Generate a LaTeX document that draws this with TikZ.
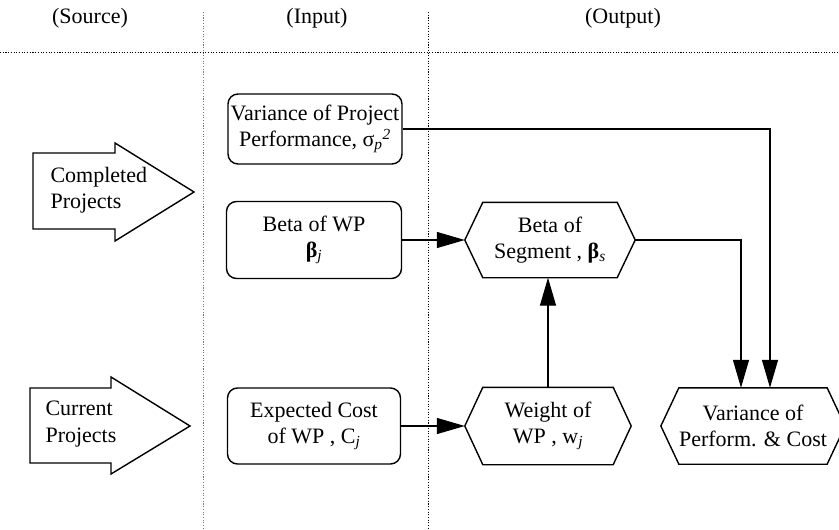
\documentclass[tikz,border=0pt]{standalone}
\usepackage{fontspec}
\setmainfont{Liberation Serif}
\usetikzlibrary{arrows.meta,calc}

% italic sub/superscripts used in the labels
\newcommand\isub[1]{\textsubscript{\itshape #1}}
\newcommand\isup[1]{\textsuperscript{\itshape #1}}
% hexagon outline around a (hidden) rectangular node
\newcommand\hexoutline[1]{%
  \draw[outline] (#1.north west) -- (#1.north east) -- ([xshift=18pt]#1.east)
    -- (#1.south east) -- (#1.south west) -- ([xshift=-18pt]#1.west) -- cycle;}

\tikzset{
  every node/.style={font=\fontsize{22}{26.5}\selectfont},
  outline/.style={line width=1.4pt, line join=miter},
  inbox/.style={draw, line width=1.4pt, rounded corners=10pt, align=center, inner sep=0pt},
  hexbox/.style={align=center, inner sep=0pt, minimum height=76pt},
  flow/.style={line width=1.3pt, -{Triangle[length=28pt,width=16pt]}},
  header/.style={anchor=center},
  sep/.style={line width=1pt, dash pattern=on 1.1pt off 1.6pt},
  blockarrow/.style={line width=1.4pt, line join=miter},
}

\begin{document}
\begin{tikzpicture}[x=1pt,y=-1pt]
\useasboundingbox (0,0) rectangle (839,530);

% column headers and separators
\node[header] (hsrc) at (90,18) {(Source)};
\node[header] (hin)  at (317,18) {(Input)};
\node[header] (hout) at (623,18) {(Output)};
\draw[sep] (0,52) -- (839,52);
\draw[sep, black!55, line width=0.8pt] (203,12) -- (203,530);
\draw[sep] (428,12) -- (428,530);

% source block arrows
\node[anchor=west, align=left] (completed) at (47,190) {Completed\\Projects};
\draw[blockarrow] (33,153) -- (115,153) -- (115,143) -- (194,192) -- (115,241)
  -- (115,229) -- (33,229) -- cycle;
\node[anchor=west, align=left] (current) at (42,424) {Current\\Projects};
\draw[blockarrow] (30,388) -- (111,388) -- (111,377) -- (190,426) -- (111,474)
  -- (111,463) -- (30,463) -- cycle;

% input boxes
\node[inbox, minimum width=174pt, minimum height=70pt] (varproj) at (315,129)
  {Variance of Project\\Performance, σ\isub{p}\isup{2}};
\node[inbox, minimum width=175pt, minimum height=77pt] (betawp) at (314,240)
  {Beta of WP\\{\bfseries β}\isub{j}};
\node[inbox, minimum width=173pt, minimum height=76pt] (expcost) at (314,426)
  {Expected Cost\\of WP , C\isub{j}};

% output hexagons
\node[hexbox, minimum width=134pt, minimum height=75pt] (seg) at (550,240)
  {Beta of\\Segment , {\bfseries β}\isub{s}};
\node[hexbox, minimum width=130pt, minimum height=77pt] (weight) at (548,426)
  {Weight of\\WP , w\isub{j}};
\node[hexbox, minimum width=133pt] (varpc) at (753,426)
  {Variance of\\Perform. \& Cost};
\hexoutline{seg}
\hexoutline{weight}
\hexoutline{varpc}

% connectors
\draw[flow] (betawp.east) -- ([xshift=-18pt]seg.west);
\draw[flow] (expcost.east) -- ([xshift=-18pt]weight.west);
\draw[flow] (weight.north) -- (weight.north |- seg.south);
\draw[flow] ([xshift=18pt]seg.east) -| ([xshift=-12pt]varpc.north);
\draw[flow] (varproj.east) -| ([xshift=17pt]varpc.north);
\end{tikzpicture}
\end{document}
